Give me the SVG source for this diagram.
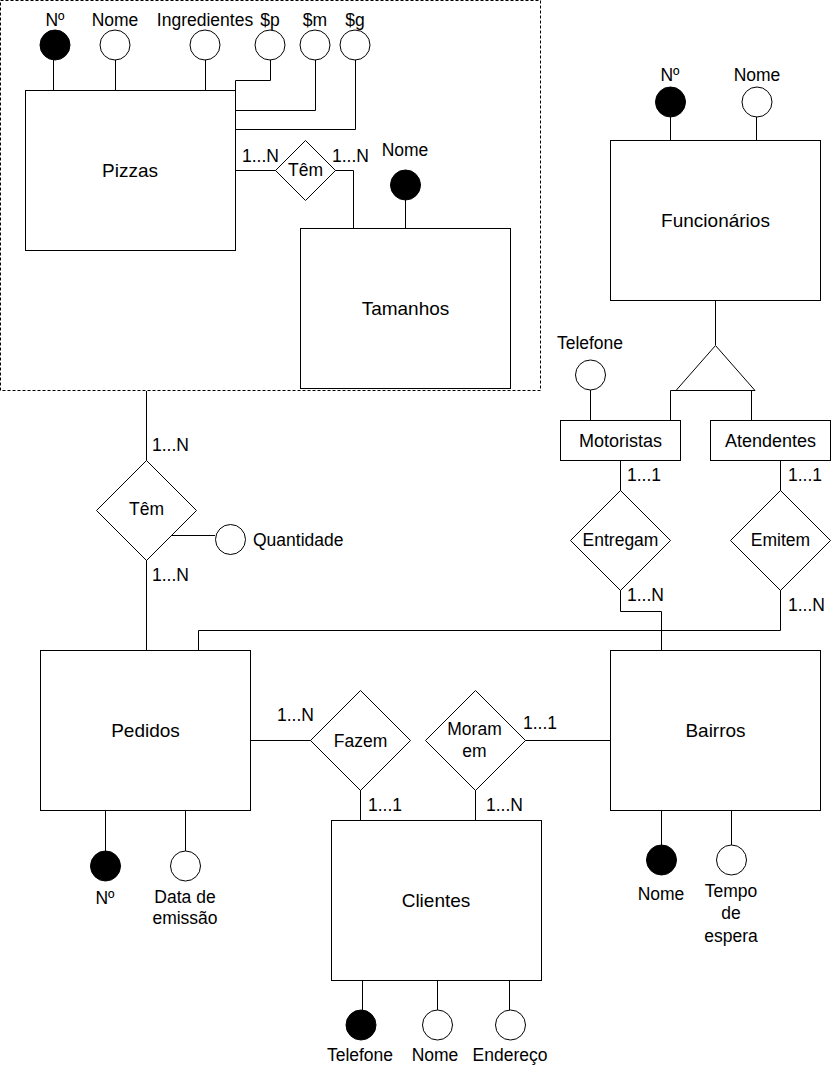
<svg xmlns="http://www.w3.org/2000/svg" width="831" height="1071" viewBox="0 0 831 1071">
<style>
.e{fill:#fff;stroke:#000;stroke-width:1}
.k{fill:#000;stroke:#000;stroke-width:1}
.a{fill:#fff;stroke:#000;stroke-width:1}
.l{fill:none;stroke:#000;stroke-width:1}
text{font-family:"Liberation Sans",Arial,sans-serif;fill:#000;text-anchor:middle}
.t{font-size:17.5px}
.big{font-size:19px}
.mid{font-size:18px}
.c{font-size:17.5px;text-anchor:start}
</style>
<rect width="831" height="1071" fill="#fff"/>
<rect x="0.5" y="0.5" width="540" height="390" fill="none" stroke="#000" stroke-width="1" stroke-dasharray="3 2"/>
<g id="connectors">
<path class="l" d="M53.5 60V90M115.5 60V90M205.5 60V90M270.5 60V80.5H235.5V90M315.5 60V110.5H235.5M355.5 60V129.5H235.5"/>
<path class="l" d="M235 170.5H276M335 170.5H353.5V228M405.5 200V228"/>
<path class="l" d="M670.5 117V140M756.5 117V140M715.5 300V345M670.5 420V390.5H755M751.5 390.5V420M590.5 390V420"/>
<path class="l" d="M620.5 460V491M620.5 590V611.5H661.5V650M780.5 460V491M780.5 590V630.5H198.5V650"/>
<path class="l" d="M146.5 391V461M146.5 560V650M171 535.5H215"/>
<path class="l" d="M250 740.5H311M360.5 790V820M525 740.5H610M475.5 790V820"/>
<path class="l" d="M105.5 810V851M185.5 810V851M661.5 810V845M731.5 810V845M362.5 980V1010M437.5 980V1010M509.5 980V1010"/>
</g>
<g id="pizzas"><rect class="e" x="25.5" y="90.5" width="210" height="160"/><text class="big" x="130" y="177">Pizzas</text></g>
<g id="pizza-no"><circle class="k" cx="55" cy="45" r="15"/><text class="t" x="55" y="26">Nº</text></g>
<g id="pizza-nome"><circle class="a" cx="115" cy="45" r="15"/><text class="t" x="115" y="26">Nome</text></g>
<g id="pizza-ingredientes"><circle class="a" cx="205" cy="45" r="15"/><text class="t" x="205" y="26">Ingredientes</text></g>
<g id="pizza-p"><circle class="a" cx="270" cy="45" r="15"/><text class="t" x="270" y="26">$p</text></g>
<g id="pizza-m"><circle class="a" cx="315" cy="45" r="15"/><text class="t" x="315" y="26">$m</text></g>
<g id="pizza-g"><circle class="a" cx="355" cy="45" r="15"/><text class="t" x="355" y="26">$g</text></g>
<g id="rel-tem-tamanho"><polygon class="e" points="305.5,140.5 335.5,170.5 305.5,200.5 275.5,170.5"/><text class="t" x="305.5" y="176">Têm</text>
<text class="c" x="242" y="162">1...N</text><text class="c" x="332" y="162">1...N</text></g>
<g id="tamanhos"><rect class="e" x="300.5" y="228.5" width="210" height="160"/><text class="big" x="405.5" y="315">Tamanhos</text></g>
<g id="tamanho-nome"><circle class="k" cx="405.5" cy="185" r="15"/><text class="t" x="405" y="156">Nome</text></g>

<g id="funcionarios"><rect class="e" x="610.5" y="140.5" width="210" height="160"/><text class="big" x="715.5" y="227">Funcionários</text></g>
<g id="func-no"><circle class="k" cx="670.5" cy="102" r="15"/><text class="t" x="670" y="81">Nº</text></g>
<g id="func-nome"><circle class="a" cx="757" cy="102" r="15"/><text class="t" x="757" y="81">Nome</text></g>
<g id="especializacao"><polygon class="e" points="676,390.5 715.5,345.5 755,390.5"/></g>
<g id="motoristas"><rect class="e" x="560.5" y="420.5" width="120" height="40"/><text class="mid" x="620.5" y="446.5">Motoristas</text></g>
<g id="motorista-telefone"><circle class="a" cx="590.5" cy="375" r="15"/><text class="t" x="590" y="349">Telefone</text></g>
<g id="atendentes"><rect class="e" x="710.5" y="420.5" width="120" height="40"/><text class="mid" x="770.5" y="446.5">Atendentes</text></g>
<g id="rel-entregam"><polygon class="e" points="620.5,490.5 670.5,540.5 620.5,590.5 570.5,540.5"/><text class="t" x="620.5" y="546">Entregam</text>
<text class="c" x="627" y="481">1...1</text><text class="c" x="627" y="601">1...N</text></g>
<g id="rel-emitem"><polygon class="e" points="780.5,490.5 830.5,540.5 780.5,590.5 730.5,540.5"/><text class="t" x="780.5" y="546">Emitem</text>
<text class="c" x="788" y="481">1...1</text><text class="c" x="788" y="611">1...N</text></g>

<g id="rel-tem-pedido"><polygon class="e" points="146.5,460.5 196.5,510.5 146.5,560.5 96.5,510.5"/><text class="t" x="146.5" y="515">Têm</text>
<text class="c" x="152" y="451">1...N</text><text class="c" x="152" y="581">1...N</text></g>
<g id="tem-quantidade"><circle class="a" cx="230.5" cy="539.5" r="15"/><text class="c" x="253" y="546">Quantidade</text></g>

<g id="pedidos"><rect class="e" x="40.5" y="650.5" width="210" height="160"/><text class="big" x="145.5" y="737">Pedidos</text></g>
<g id="pedido-no"><circle class="k" cx="105.5" cy="866" r="15"/><text class="t" x="105" y="904">Nº</text></g>
<g id="pedido-data"><circle class="a" cx="185.5" cy="866" r="15"/><text class="t" x="185" y="903">Data de</text><text class="t" x="185" y="924">emissão</text></g>

<g id="rel-fazem"><polygon class="e" points="360.5,690.5 410.5,740.5 360.5,790.5 310.5,740.5"/><text class="t" x="360.5" y="747">Fazem</text>
<text class="c" x="277" y="721">1...N</text><text class="c" x="368" y="811">1...1</text></g>
<g id="rel-moram"><polygon class="e" points="475.5,690.5 525.5,740.5 475.5,790.5 425.5,740.5"/><text class="t" x="474.5" y="735">Moram</text><text class="t" x="474.5" y="757">em</text>
<text class="c" x="523" y="729">1...1</text><text class="c" x="486" y="811">1...N</text></g>

<g id="clientes"><rect class="e" x="331.5" y="820.5" width="210" height="160"/><text class="big" x="436" y="907">Clientes</text></g>
<g id="cliente-telefone"><circle class="k" cx="361" cy="1025" r="15"/><text class="t" x="360" y="1061">Telefone</text></g>
<g id="cliente-nome"><circle class="a" cx="437.5" cy="1025" r="15"/><text class="t" x="435" y="1061">Nome</text></g>
<g id="cliente-endereco"><circle class="a" cx="510.5" cy="1025" r="15"/><text class="t" x="510" y="1061">Endereço</text></g>

<g id="bairros"><rect class="e" x="610.5" y="650.5" width="210" height="160"/><text class="big" x="715.5" y="737">Bairros</text></g>
<g id="bairro-nome"><circle class="k" cx="661.5" cy="860" r="15"/><text class="t" x="661" y="900">Nome</text></g>
<g id="bairro-tempo"><circle class="a" cx="731.5" cy="860" r="15"/><text class="t" x="731" y="897">Tempo</text><text class="t" x="731" y="919">de</text><text class="t" x="731" y="942">espera</text></g>
</svg>
